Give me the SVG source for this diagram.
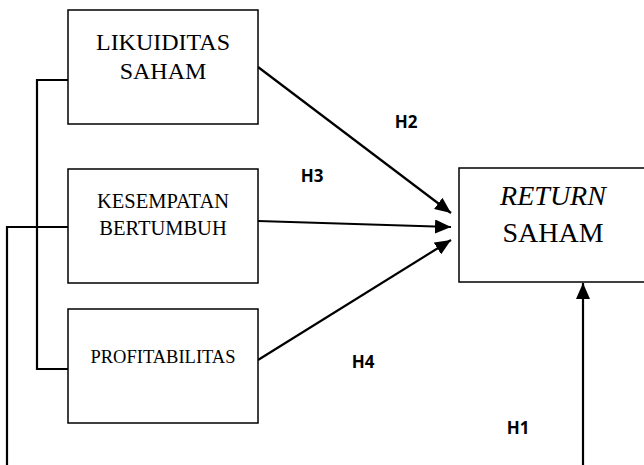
<svg xmlns="http://www.w3.org/2000/svg" width="644" height="465" viewBox="0 0 644 465">
<style>
.box{fill:#fff;stroke:#000;stroke-width:1.5}
.t{font-family:"Liberation Serif","Times New Roman",serif;fill:#000;text-anchor:middle}
.lbl{font-family:"Open Sans","Liberation Sans",sans-serif;font-weight:bold;font-size:17px;fill:#000;text-anchor:middle}
.ln{stroke:#000;stroke-width:2.2;fill:none}
</style>
<defs>
<marker id="ah" markerUnits="userSpaceOnUse" markerWidth="16" markerHeight="14" refX="16" refY="7" orient="auto">
<path d="M0,0 L16,7 L0,14 z" fill="#000"/>
</marker>
</defs>
<g id="connectors">
<polyline class="ln" points="68,80 37,80 37,369 68,369"/>
<polyline class="ln" points="68,227 7,227 7,465"/>
<line class="ln" x1="258" y1="67" x2="451" y2="213" marker-end="url(#ah)"/>
<line class="ln" x1="258" y1="221" x2="451" y2="227" marker-end="url(#ah)"/>
<line class="ln" x1="258" y1="360" x2="451" y2="240" marker-end="url(#ah)"/>
<line class="ln" x1="583" y1="465" x2="583" y2="283" marker-end="url(#ah)"/>
</g>
<g id="likuiditas">
<rect class="box" x="68" y="10" width="190" height="114"/>
<text class="t" x="163" y="50" font-size="24">LIKUIDITAS</text>
<text class="t" x="163" y="79" font-size="24">SAHAM</text>
</g>
<g id="kesempatan">
<rect class="box" x="68" y="169" width="190" height="114"/>
<text class="t" x="163" y="208" font-size="20.5">KESEMPATAN</text>
<text class="t" x="163" y="235" font-size="20.5">BERTUMBUH</text>
</g>
<g id="profitabilitas">
<rect class="box" x="68" y="309" width="190" height="114"/>
<text class="t" x="163" y="363" font-size="18.5">PROFITABILITAS</text>
</g>
<g id="return">
<rect class="box" x="459" y="168" width="200" height="114"/>
<text class="t" x="553" y="205" font-size="28" font-style="italic">RETURN</text>
<text class="t" x="553" y="242" font-size="28">SAHAM</text>
</g>
<g id="labels">
<text class="lbl" x="406" y="128">H2</text>
<text class="lbl" x="312" y="182">H3</text>
<text class="lbl" x="363" y="368">H4</text>
<text class="lbl" x="518" y="434">H1</text>
</g>
</svg>
